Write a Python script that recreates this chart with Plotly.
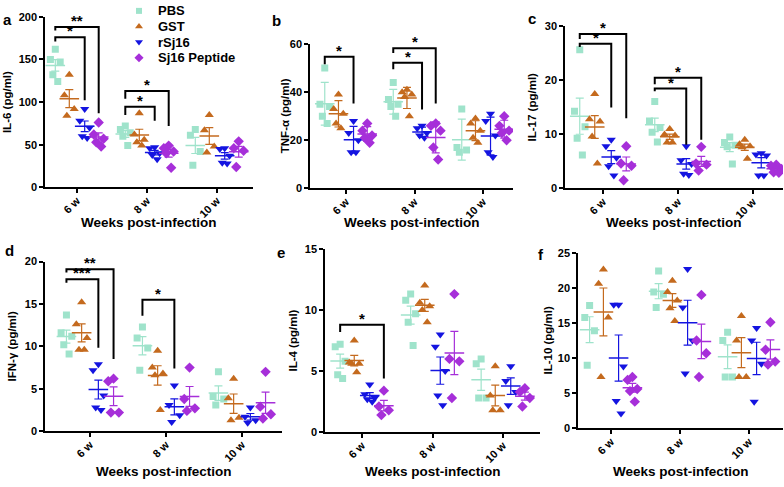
import math
import statistics
import plotly.graph_objects as go

W, H = 784, 487

weeks = ["6 w", "8 w", "10 w"]
groups = ["PBS", "GST", "rSj16", "Sj16 Peptide"]
colors = ["#9FE3CB", "#C46A1E", "#1414E0", "#A62FD9"]
symbols = ["square", "triangle-up", "triangle-down", "diamond"]
msizes = [7, 8, 8, 8]

# values, one list per time point (6 w, 8 w, 10 w)
il6_pbs = [[162, 150, 147, 132, 124], [72, 68, 64, 60, 49], [68, 61, 42, 26]]
il6_gst = [[132, 108, 92, 84], [87, 62, 56, 53, 49], [85, 67, 48, 41]]
il6_rsj16 = [[92, 78, 70, 60, 58], [47, 46, 40, 38, 33], [46, 45, 37, 29, 28]]
il6_pep = [[76, 62, 57, 53, 48], [49, 46, 42, 40, 23], [54, 46, 43, 24]]

tnf_pbs = [[50, 35, 34, 30, 27], [44, 37, 35, 34, 30], [33, 17, 16, 15]]
tnf_gst = [[39, 33, 31, 27, 25], [41, 40, 39, 38, 30], [29, 27, 24, 21, 19]]
tnf_rsj16 = [[28, 23, 20, 15, 15], [26, 25, 23, 22, 21], [31, 28, 22, 15, 13]]
tnf_pep = [[27, 24, 22, 21, 19], [27, 26, 24, 17, 12], [30, 26, 24, 23, 20]]

il17_pbs = [[25.7, 14.3, 11.4, 9.3, 6.2], [16.1, 12.5, 11.3, 10.4, 8.6], [9.5, 8.5, 8.0, 7.7, 4.5]]
il17_gst = [[17.5, 12.8, 12.4, 9.6, 4.6], [11, 10, 9.8, 8.5, 8.5], [9, 8.2, 7.8, 7.6, 5.5]]
il17_rsj16 = [[9, 7.8, 5.7, 4.1, 2.4], [7.8, 5.2, 4.5, 2.7, 2.5], [6.5, 6.3, 6.1, 2.4, 2.4]]
il17_pep = [[7.8, 4.6, 4.2, 1.5], [7.7, 4.6, 4.4, 3.3], [4.4, 4.2, 3.6, 3.0, 2.9]]

ifn_pbs = [[13.7, 11.6, 11.2, 10.2, 9.1], [12.3, 11, 9.8, 7.2], [7.0, 4.1, 3.8, 3.1]]
ifn_gst = [[15.2, 12.6, 11.0, 9.6, 9.6], [9.5, 7.5, 6.8, 6.6, 2.5], [6.2, 3.9, 1.6, 1.3]]
ifn_rsj16 = [[7.9, 7.2, 4.2, 2.8, 2.5], [5.4, 3.1, 1.9, 1.1], [2.8, 1.7, 1.3, 1.0]]
ifn_pep = [[6.2, 5.9, 2.2, 2.2], [7.5, 3.8, 2.7, 2.4], [7.0, 2.9, 2.0, 1.5]]

il4_pbs = [[7.2, 7.0, 5.8, 4.7, 4.4], [11.3, 10.8, 9.7, 9.0, 7.1], [6.0, 5.6, 2.8, 2.8]]
il4_gst = [[7.5, 5.7, 5.6, 5.6, 4.9], [12, 10.6, 10.3, 10.0, 9.0], [5.4, 3.0, 1.8, 1.8]]
il4_rsj16 = [[3.9, 3.1, 2.8, 2.7, 2.5], [8, 7, 5, 3, 2.2], [5.4, 4.2, 3.3, 2.2]]
il4_pep = [[3.4, 2.1, 1.8, 1.4], [11.3, 6.0, 5.8, 2.8], [3.6, 3.3, 2.8, 2.1]]

il10_pbs = [[17.5, 15.8, 13.9, 9.0], [22.4, 19.4, 19.1, 17.2], [13.7, 12.5, 7.3, 7.3]]
il10_gst = [[22.6, 20.6, 15.8, 7.3], [21, 19.4, 18.2, 17.1, 15.3], [16, 12.5, 7.3, 7.3]]
il10_rsj16 = [[17.6, 17.6, 8.8, 3.9, 2.1], [22.7, 17.2, 12.5, 7.8], [14.3, 12.5, 9.2, 3.8]]
il10_pep = [[7.3, 6.9, 5.6, 5.3, 3.8], [19, 12.5, 10.7, 7.3], [15.1, 11.2, 9.5, 9.1]]

# significance brackets: (week, from group, to group, bar y, left end y, right end y, label)
il6_sig = [(0, 0, 3, 188, 184, 87, "**"), (0, 0, 2, 176, 171, 102, "*"),
           (1, 0, 3, 113, 104, 72, "*"), (1, 0, 2, 94.5, 85, 78, "*")]
tnf_sig = [(0, 0, 2, 54.7, 51.6, 35.3, "*"), (1, 0, 3, 58.3, 56.3, 35.3, "*"),
           (1, 0, 2, 52.2, 49.5, 32.8, "*")]
il17_sig = [(0, 0, 3, 28.6, 27.7, 13, "*"), (0, 0, 2, 26.8, 26.2, 15, "*"),
            (1, 0, 3, 20.5, 19.3, 9, "*"), (1, 0, 2, 18.5, 18, 8.1, "*")]
ifn_sig = [(0, 0, 3, 19.1, 18.7, 8.5, "**"), (0, 0, 2, 17.9, 17.5, 9.85, "***"),
           (1, 0, 2, 15.5, 13.6, 7.4, "*")]
il4_sig = [(0, 0, 3, 8.8, 8.2, 4.4, "*")]
il10_sig = []

# panel geometry in pixels: x0, x1, first category px, px per category, y top, y bottom
panels = [
    dict(letter="a", title="IL-6 (pg/ml)", data=[il6_pbs, il6_gst, il6_rsj16, il6_pep], sig=il6_sig,
         ymax=200, dtick=50, geo=(45, 253, 77, 70, 11, 186), lx=7, ly=14, tx=38, err="sem"),
    dict(letter="b", title="TNF-α (pg/ml)", data=[tnf_pbs, tnf_gst, tnf_rsj16, tnf_pep], sig=tnf_sig,
         ymax=60, dtick=20, geo=(310, 513, 346, 68.5, 39, 187), lx=276, ly=15, tx=25, err="sd"),
    dict(letter="c", title="IL-17 (pg/ml)", data=[il17_pbs, il17_gst, il17_rsj16, il17_pep], sig=il17_sig,
         ymax=30, dtick=10, geo=(565, 783, 603, 75, 21, 187), lx=532, ly=13, tx=33, err="sem"),
    dict(letter="d", title="IFN-γ (pg/ml)", data=[ifn_pbs, ifn_gst, ifn_rsj16, ifn_pep], sig=ifn_sig,
         ymax=20, dtick=5, geo=(45, 282, 90, 76, 262, 436), lx=9, ly=251, tx=33, err="sem"),
    dict(letter="e", title="IL-4 (pg/ml)", data=[il4_pbs, il4_gst, il4_rsj16, il4_pep], sig=il4_sig,
         ymax=15, dtick=5, geo=(325, 540, 362, 70.5, 249, 437), lx=281, ly=253, tx=32, err="sem"),
    dict(letter="f", title="IL-10 (pg/ml)", data=[il10_pbs, il10_gst, il10_rsj16, il10_pep], sig=il10_sig,
         ymax=25, dtick=5, geo=(578, 783, 611, 69, 253, 433), lx=541, ly=255, tx=30, err="sem"),
]

offsets = [-0.31, -0.11, 0.11, 0.31]
jitter = [0.0, -0.07, 0.07, -0.035, 0.035]
FONT = "Arial"

fig = go.Figure()
annotations = []
shapes = []
layout = {}


def px_x(x):
    return x / W


def px_y(y):
    return 1 - y / H


def axis_ids(i):
    s = "" if i == 1 else str(i)
    return "x" + s, "y" + s, "xaxis" + s, "yaxis" + s


def bold(size):
    return dict(family=FONT, size=size, color="black", weight="bold")


for i, p in enumerate(panels, start=1):
    x0, x1, c0, unit, yt, yb = p["geo"]
    xa, ya, xkey, ykey = axis_ids(i)
    axis_style = dict(showline=True, linecolor="black", linewidth=1.5, ticks="outside",
                      ticklen=4, tickwidth=1.5, tickcolor="black", showgrid=False, zeroline=False,
                      tickfont=bold(11))
    layout[xkey] = dict(domain=[px_x(x0), px_x(x1)], range=[(x0 - c0) / unit, (x1 - c0) / unit],
                        tickvals=[0, 1, 2], ticktext=weeks, tickangle=-45, ticklabelstandoff=-3,
                        anchor=ya, **axis_style)
    layout[ykey] = dict(domain=[px_y(yb), px_y(yt)], range=[0, p["ymax"]], dtick=p["dtick"],
                        anchor=xa, **axis_style)

    for g, vals in enumerate(p["data"]):
        xs, ys, mx, my, me = [], [], [], [], []
        for w, pts in enumerate(vals):
            for k, v in enumerate(pts):
                xs.append(w + offsets[g] + jitter[k % len(jitter)])
                ys.append(v)
            m = statistics.mean(pts)
            sd = statistics.stdev(pts)
            mx.append(w + offsets[g])
            my.append(m)
            me.append(sd if p["err"] == "sd" else sd / math.sqrt(len(pts)))
        fig.add_trace(go.Scatter(x=mx, y=my, xaxis=xa, yaxis=ya, mode="markers", showlegend=False,
                                 marker=dict(symbol="line-ew", size=14, color=colors[g],
                                             line=dict(width=1.5, color=colors[g])),
                                 error_y=dict(type="data", array=me, color=colors[g], thickness=1.2, width=4)))
        fig.add_trace(go.Scatter(x=xs, y=ys, xaxis=xa, yaxis=ya, mode="markers", showlegend=False,
                                 marker=dict(symbol=symbols[g], size=msizes[g], color=colors[g], line=dict(width=0))))

    for w, g0, g1, yb_, yl, yr, lab in p["sig"]:
        xl, xr = w + offsets[g0], w + offsets[g1]
        shapes.append(dict(type="path", xref=xa, yref=ya, line=dict(color="black", width=2),
                           path=f"M {xl} {yl} L {xl} {yb_} L {xr} {yb_} L {xr} {yr}"))
        annotations.append(dict(x=(xl + xr) / 2, y=yb_, xref=xa, yref=ya, text=lab, showarrow=False,
                                xanchor="center", yanchor="bottom", yshift=-3, borderpad=0, font=bold(15)))

    # axis titles and panel letter
    top_row = yb < 300
    annotations.append(dict(x=px_x((x0 + x1) / 2), y=px_y(222 if top_row else 477), xref="paper", yref="paper",
                            text="Weeks post-infection", showarrow=False, xanchor="center", yanchor="middle",
                            font=bold(13.5)))
    annotations.append(dict(x=px_x(x0 - p["tx"]), y=px_y((yt + yb) / 2), xref="paper", yref="paper",
                            text=p["title"], textangle=-90, showarrow=False, xanchor="center", yanchor="middle",
                            font=bold(11.5)))
    annotations.append(dict(x=px_x(p["lx"]), y=px_y(p["ly"]), xref="paper", yref="paper", text=p["letter"],
                            showarrow=False, xanchor="center", yanchor="middle", font=bold(15)))

# legend drawn on an overlay axis in pixel units
li = len(panels) + 1
layout[f"xaxis{li}"] = dict(domain=[0, 1], range=[0, W], visible=False, fixedrange=True)
layout[f"yaxis{li}"] = dict(domain=[0, 1], range=[H, 0], visible=False, fixedrange=True)
for g, name in enumerate(groups):
    ly = 5 + 16 * g
    fig.add_trace(go.Scatter(x=[139], y=[ly], xaxis=f"x{li}", yaxis=f"y{li}", mode="markers", showlegend=False,
                             marker=dict(symbol=symbols[g], size=msizes[g] - 1, color=colors[g])))
    annotations.append(dict(x=px_x(156), y=px_y(ly), xref="paper", yref="paper", text=name, showarrow=False,
                            xanchor="left", yanchor="middle", font=bold(13)))

fig.update_layout(width=W, height=H, margin=dict(l=0, r=0, t=0, b=0), plot_bgcolor="rgba(0,0,0,0)",
                  paper_bgcolor="white", annotations=annotations, shapes=shapes, **layout)
# the page body has a default margin; drop it so the figure sits at the window origin
fig.write_html("out.html", config={"displayModeBar": False},
               post_script="document.body.style.margin='0px';")
